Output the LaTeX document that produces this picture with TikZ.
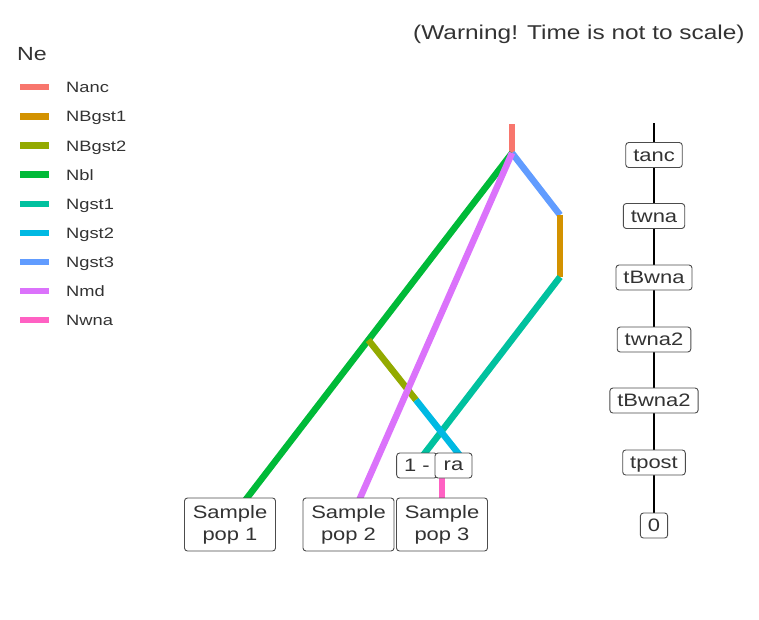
\documentclass[tikz,border=0pt]{standalone}
\usepackage{fontspec}
\setmainfont[FakeStretch=1.22]{Liberation Sans}
\definecolor{nanc}{HTML}{F8766D}
\definecolor{nbgstone}{HTML}{D39200}
\definecolor{nbgsttwo}{HTML}{93AA00}
\definecolor{nbl}{HTML}{00BA38}
\definecolor{ngstone}{HTML}{00C19F}
\definecolor{ngsttwo}{HTML}{00B9E3}
\definecolor{ngstthree}{HTML}{619CFF}
\definecolor{nmd}{HTML}{DB72FB}
\definecolor{nwna}{HTML}{FF61C3}
\definecolor{txt}{HTML}{333333}
\begin{document}
\begin{tikzpicture}[x=1pt,y=-1pt,
  branch/.style={line width=6.5pt},
  lbl/.style={draw=black!70, fill=white, rounded corners=3pt, line width=0.9pt,
    font=\fontsize{18}{22}\selectfont, text=txt, inner xsep=7.5pt, inner ysep=0pt,
    minimum height=25pt},
  tlbl/.style={lbl, text height=15.5pt, text depth=2.6pt},
  sample/.style={lbl, align=center, minimum width=91pt, minimum height=53pt},
  legline/.style={line width=6.5pt},
  legtext/.style={anchor=base west, font=\fontsize{15}{18}\selectfont, text=txt, inner sep=0pt}
]
\useasboundingbox (0,0) rectangle (759,619);

% title
\node[anchor=base west, inner sep=0pt, font=\fontsize{20}{24}\selectfont, text=txt] (title) at (413,39) {(Warning! Time is not to scale)};

% legend
\node[anchor=base west, inner sep=0pt, font=\fontsize{19}{23}\selectfont, text=txt] (ne) at (17,60) {Ne};
\foreach \c/\t/\y [count=\i] in {nanc/Nanc/87, nbgstone/NBgst1/116.5, nbgsttwo/NBgst2/145.6, nbl/Nbl/174.7, ngstone/Ngst1/203.8, ngsttwo/Ngst2/232.9, ngstthree/Ngst3/262, nmd/Nmd/291, nwna/Nwna/320}{
  \coordinate (lk\i a) at (20,\y);
  \coordinate (lk\i b) at (49,\y);
  \draw[legline, \c] (lk\i a) -- (lk\i b);
  \node[legtext] (lt\i) at (66,\y+5.4) {\t};
}

% tree coordinates
\coordinate (top) at (512,124);
\coordinate (root) at (512,153);
\coordinate (p1end) at (241.6,505);
\coordinate (p2end) at (357,505);
\coordinate (g3) at (560,215);
\coordinate (b1) at (560,277);
\coordinate (g1end) at (419.5,460);
\coordinate (split) at (368.4,340);
\coordinate (b2) at (416,400);
\coordinate (g2end) at (463.5,460);
\coordinate (wnatop) at (442,475);
\coordinate (wnabot) at (442,505);

\draw[branch, nanc] (top) -- (root);
\draw[branch, nbl] (root) -- (p1end);
\draw[branch, ngstthree] (root) -- (g3);
\draw[branch, nbgstone] (g3) -- (b1);
\draw[branch, ngstone] (b1) -- (g1end);
\draw[branch, nbgsttwo] (split) -- (b2);
\draw[branch, ngsttwo] (b2) -- (g2end);
\draw[branch, nmd] (root) -- (p2end);
\draw[branch, nwna] (wnatop) -- (wnabot);

% admixture labels
\node[lbl, minimum width=40pt] (one) at (417,465.5) {1 -};
\node[lbl, minimum width=37pt] (ra) at (453.5,465.5) {ra};

% sample boxes
\node[sample] (pop1) at (230,524.5) {Sample\\pop 1};
\node[sample] (pop2) at (348.5,524.5) {Sample\\pop 2};
\node[sample] (pop3) at (442,524.5) {Sample\\pop 3};

% timeline
\coordinate (ttop) at (654,123);
\coordinate (tbot) at (654,515);
\draw[line width=2.8pt, black] (ttop) -- (tbot);
\node[tlbl] (tanc) at (654,155) {tanc};
\node[tlbl] (twna) at (654,216) {twna};
\node[tlbl] (tbwna) at (654,277.5) {tBwna};
\node[tlbl] (twnatwo) at (654,339.5) {twna2};
\node[tlbl] (tbwnatwo) at (654,400.5) {tBwna2};
\node[tlbl] (tpost) at (654,462.5) {tpost};
\node[tlbl] (zero) at (654,525.5) {0};
\end{tikzpicture}
\end{document}
